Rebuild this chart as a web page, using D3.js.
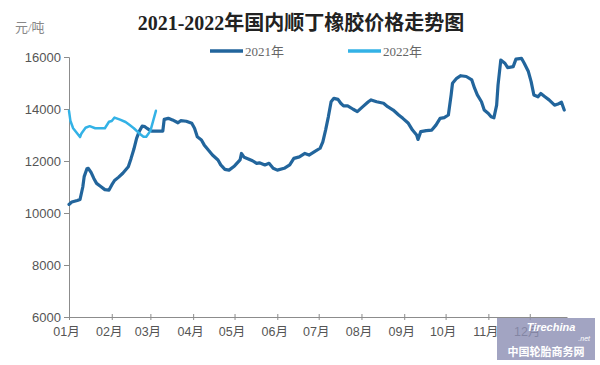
<!DOCTYPE html>
<html>
<head>
<meta charset="utf-8">
<script src="https://cdn.jsdelivr.net/npm/d3@7/dist/d3.min.js"></script>
<style>
  html, body { margin: 0; padding: 0; background: #fff; }
  svg { display: block; }
</style>
</head>
<body>
<svg id="chart" width="600" height="365"></svg>
<script>
// ---- data ----
const title = "2021-2022年国内顺丁橡胶价格走势图";
const unitLabel = "元/吨";
const seriesNames = ["2021年", "2022年"];
const yTicks = [6000, 8000, 10000, 12000, 14000, 16000];

const dates2021 = ["01-01","01-03","01-07","01-09","01-11","01-12","01-14","01-15","01-17","01-19","01-21","01-24","01-27","01-30",
  "02-01","02-03","02-06","02-09","02-13","02-15","02-17","02-19","02-21","02-23","02-25","02-27",
  "03-02","03-06","03-10","03-11","03-14","03-17","03-21","03-23","03-27","03-31",
  "04-02","04-04","04-07","04-09","04-12","04-15","04-19","04-21","04-24","04-27",
  "05-01","05-05","05-06","05-08","05-11","05-14","05-17","05-19","05-23","05-26","05-29",
  "06-01","06-06","06-10","06-13","06-17","06-21","06-24","06-28",
  "07-02","07-04","07-06","07-08","07-10","07-12","07-15","07-17","07-19","07-22","07-26","07-29",
  "08-02","08-06","08-08","08-12","08-17","08-20","08-24","08-28","08-31",
  "09-04","09-07","09-10","09-11","09-13","09-17","09-21","09-24","09-27","09-30",
  "10-03","10-05","10-06","10-09","10-12","10-16","10-20","10-22","10-24","10-27","10-29",
  "11-01","11-03","11-05","11-07","11-08","11-10","11-13","11-15","11-19","11-21","11-25","11-27","11-30",
  "12-02","12-04","12-07","12-09","12-12","12-15","12-19","12-21","12-24","12-26"];
const values2021 = [10330,10420,10480,10520,11000,11400,11700,11720,11560,11330,11140,11020,10900,10880,
  11080,11250,11380,11530,11780,12100,12450,12870,13150,13340,13320,13240,
  13150,13150,13150,13600,13640,13580,13470,13550,13530,13450,
  13260,12930,12810,12620,12420,12230,12040,11850,11680,11650,
  11810,12040,12290,12140,12080,12010,11910,11930,11850,11910,11720,
  11650,11720,11850,12100,12160,12290,12230,12360,
  12490,12740,13190,13700,14280,14410,14370,14220,14120,14120,13990,13900,
  14090,14280,14350,14280,14220,14090,13960,13770,13640,
  13450,13190,13000,12830,13130,13170,13190,13380,13640,13670,
  13770,14540,14990,15180,15280,15250,15120,14800,14540,14280,13960,
  13830,13700,13660,14150,14920,15880,15760,15590,15630,15920,15950,15760,15440,
  15050,14540,14470,14600,14470,14350,14150,14180,14260,13960];

const dates2022 = ["01-01","01-02","01-04","01-07","01-09","01-10","01-13","01-16","01-20","01-23","01-27","01-30",
  "02-01","02-03","02-07","02-11","02-14","02-17","02-21","02-24","02-26","03-01","03-03","03-05"];
const values2022 = [13930,13550,13260,13060,12920,13060,13280,13340,13260,13260,13260,13510,
  13540,13670,13590,13500,13380,13260,13060,12930,12930,13160,13540,13930];

// ---- layout ----
const svg = d3.select("#chart");
const W = 600, H = 365;
const m = { left: 69, right: 33, top: 57, bottom: 48 };
const colors = ["#22659c", "#33b2e6"];

svg.append("rect").attr("width", W).attr("height", H).attr("fill", "#fff");

const parse = d3.timeParse("%Y-%m-%d");
const toDate = md => parse("2021-" + md);

const x = d3.scaleTime()
  .domain([toDate("01-01"), toDate("12-28")])
  .range([m.left, W - m.right]);
const y = d3.scaleLinear()
  .domain([6000, 16000])
  .range([H - m.bottom, m.top]);

// title
svg.append("text")
  .attr("x", 301).attr("y", 30)
  .attr("text-anchor", "middle")
  .attr("font-family", "'Liberation Serif','Noto Sans CJK SC',serif")
  .attr("font-weight", "bold")
  .attr("font-size", 20)
  .attr("fill", "#222")
  .text(title);

// unit label
svg.append("text")
  .attr("x", 15).attr("y", 32)
  .attr("font-family", "'Liberation Serif','Noto Sans CJK SC',serif")
  .attr("font-size", 13)
  .attr("fill", "#888")
  .text(unitLabel);

// y axis
const yAxis = d3.axisLeft(y).tickValues(yTicks).tickSize(5).tickPadding(3).tickFormat(d3.format("d"));
const gy = svg.append("g").attr("transform", `translate(${m.left},0)`).call(yAxis);
gy.select(".domain").attr("stroke", "#8c8c8c");
gy.selectAll(".tick line").attr("stroke", "#8c8c8c");
gy.selectAll(".tick text")
  .attr("font-family", "'Liberation Sans',Arial,sans-serif")
  .attr("font-size", 13).attr("fill", "#555");

// x axis
const xAxis = d3.axisBottom(x)
  .ticks(d3.timeMonth.every(1))
  .tickSizeInner(3).tickSizeOuter(0)
  .tickFormat(d3.timeFormat("%m月"));
const gx = svg.append("g").attr("transform", `translate(0,${H - m.bottom})`).call(xAxis);
gx.select(".domain").attr("stroke", "#8c8c8c");
gx.selectAll(".tick line").attr("stroke", "#8c8c8c").attr("y1", -3).attr("y2", 3);
gx.selectAll(".tick text")
  .attr("font-family", "'Liberation Sans','Noto Sans CJK SC',sans-serif")
  .attr("font-size", 12.5).attr("fill", "#555")
  .attr("dx", -3).attr("dy", "1.05em");

// lines
const line = d3.line().x(d => x(d.date)).y(d => y(d.value)).curve(d3.curveLinear);
const s2021 = dates2021.map((d, i) => ({ date: toDate(d), value: values2021[i] }));
const s2022 = dates2022.map((d, i) => ({ date: toDate(d), value: values2022[i] }));

svg.append("path").datum(s2021)
  .attr("d", line).attr("fill", "none")
  .attr("stroke", colors[0]).attr("stroke-width", 3.2)
  .attr("stroke-linejoin", "round").attr("stroke-linecap", "round");
svg.append("path").datum(s2022)
  .attr("d", line).attr("fill", "none")
  .attr("stroke", colors[1]).attr("stroke-width", 2.5)
  .attr("stroke-linejoin", "round").attr("stroke-linecap", "round");

// legend
const legendX = [210, 348];
seriesNames.forEach((n, i) => {
  const g = svg.append("g").attr("transform", `translate(${legendX[i]},51)`);
  g.append("line").attr("x1", 0).attr("x2", 33).attr("y1", 0).attr("y2", 0)
    .attr("stroke", colors[i]).attr("stroke-width", 3.5);
  g.append("text").attr("x", 35).attr("y", 0).attr("dy", "0.35em")
    .attr("font-family", "'Liberation Serif','Noto Sans CJK SC',serif")
    .attr("font-size", 13).attr("fill", "#666")
    .text(n);
});

// watermark
const wm = svg.append("g").attr("transform", "translate(497,318)");
wm.append("rect").attr("width", 98).attr("height", 42).attr("fill", "#8e90b4").attr("opacity", 0.82);
wm.append("text").attr("x", 54).attr("y", 13).attr("text-anchor", "middle")
  .attr("font-family", "'Liberation Sans',sans-serif").attr("font-style", "italic").attr("font-weight", "bold")
  .attr("font-size", 11).attr("fill", "#fff").text("Tirechina");
wm.append("text").attr("x", 93).attr("y", 23).attr("text-anchor", "end")
  .attr("font-family", "'Liberation Sans',sans-serif").attr("font-style", "italic")
  .attr("font-size", 7).attr("fill", "#fff").text(".net");
wm.append("text").attr("x", 49).attr("y", 38).attr("text-anchor", "middle")
  .attr("font-family", "'Noto Sans CJK SC',sans-serif").attr("font-weight", "bold")
  .attr("font-size", 11).attr("fill", "#fff").text("中国轮胎商务网");
</script>
</body>
</html>
